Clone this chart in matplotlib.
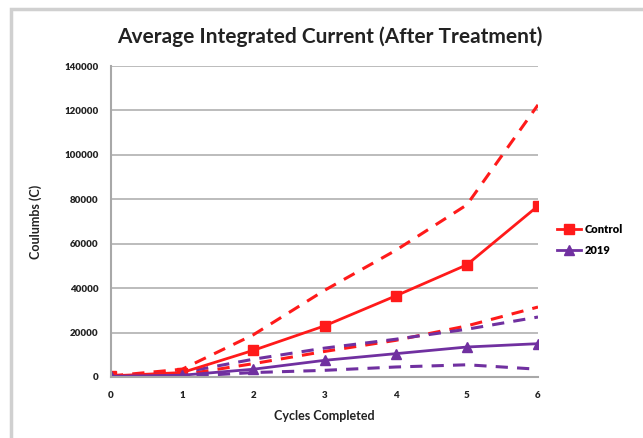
import matplotlib
matplotlib.use("Agg")
import matplotlib.pyplot as plt
from matplotlib.patches import Rectangle

plt.rcParams['font.family'] = ['Lato', 'DejaVu Sans']

cycles = [0, 1, 2, 3, 4, 5, 6]

# Control: mean and upper / lower bounds (dashed)
control_mean = [500, 2000, 12000, 23000, 36500, 50500, 77000]
control_upper = [500, 3500, 19000, 39000, 57000, 77500, 122500]
control_lower = [500, 1000, 6000, 11500, 16500, 23000, 31500]

# 2019: mean and upper / lower bounds (dashed)
s2019_mean = [300, 800, 3500, 7500, 10500, 13500, 15000]
s2019_upper = [300, 2000, 8000, 13000, 17000, 21500, 27000]
s2019_lower = [300, 200, 2000, 3000, 4500, 5500, 3500]

yticks = [0, 20000, 40000, 60000, 80000, 100000, 120000, 140000]

red = '#ff1a1a'
purple = '#7030a0'

fig = plt.figure(figsize=(6.43, 4.38), dpi=100)
ax = fig.add_axes([111/643, 1 - 377/438, (538 - 111)/643, (377 - 66)/438])

# chart border (only left/top visible in reference)
fig.patches.append(Rectangle((11/643, -0.1), 1.2, 1 - 9/438 + 0.1, transform=fig.transFigure,
                             fill=False, edgecolor='#d0d0d0', linewidth=2.5))

ax.plot(cycles, control_upper, color=red, lw=2.2, dashes=(4, 3))
ax.plot(cycles, control_lower, color=red, lw=2.2, dashes=(4, 3))
ax.plot(cycles, s2019_upper, color=purple, lw=2.2, dashes=(4, 3))
ax.plot(cycles, s2019_lower, color=purple, lw=2.2, dashes=(4, 3))
ax.plot(cycles, control_mean, color=red, lw=2, marker='s', ms=6.5, label='Control')
ax.plot(cycles, s2019_mean, color=purple, lw=2, marker='^', ms=6.5, label='2019')

ax.set_xlim(0, 6)
ax.set_ylim(0, 140000)
ax.set_xticks(cycles)
ax.set_yticks(yticks)
ax.set_yticklabels([str(v) for v in yticks])
ax.tick_params(axis='both', length=0, labelsize=7, colors='#222222')
ax.tick_params(axis='x', pad=10)
ax.tick_params(axis='y', pad=9)
for lbl in ax.get_xticklabels() + ax.get_yticklabels():
    lbl.set_fontweight('heavy')
ax.grid(axis='y', color='#b0b0b0', lw=1.2)
ax.set_axisbelow(True)
for s in ['top', 'right']:
    ax.spines[s].set_visible(False)
ax.spines['left'].set_color('#a8a8a8')
ax.spines['left'].set_linewidth(1.5)
ax.spines['bottom'].set_color('#a8a8a8')
ax.spines['bottom'].set_linewidth(1.5)

ax.set_xlabel('Cycles Completed', fontsize=9, fontweight='bold', color='#222222', labelpad=7)
ax.set_ylabel('Coulumbs (C)', fontsize=9, fontweight='bold', color='#222222', labelpad=16)
fig.text(330/643, 1 - 37/438, 'Average Integrated Current (After Treatment)',
         ha='center', va='center', fontsize=15, fontweight='bold', color='#222222')

ax.legend(loc='center left', bbox_to_anchor=(1.02, 0.44), frameon=False,
          handlelength=2.2, handletextpad=0.3, labelspacing=0.9,
          prop={'weight': 'heavy', 'size': 8})

fig.savefig('out.png', dpi=100)
